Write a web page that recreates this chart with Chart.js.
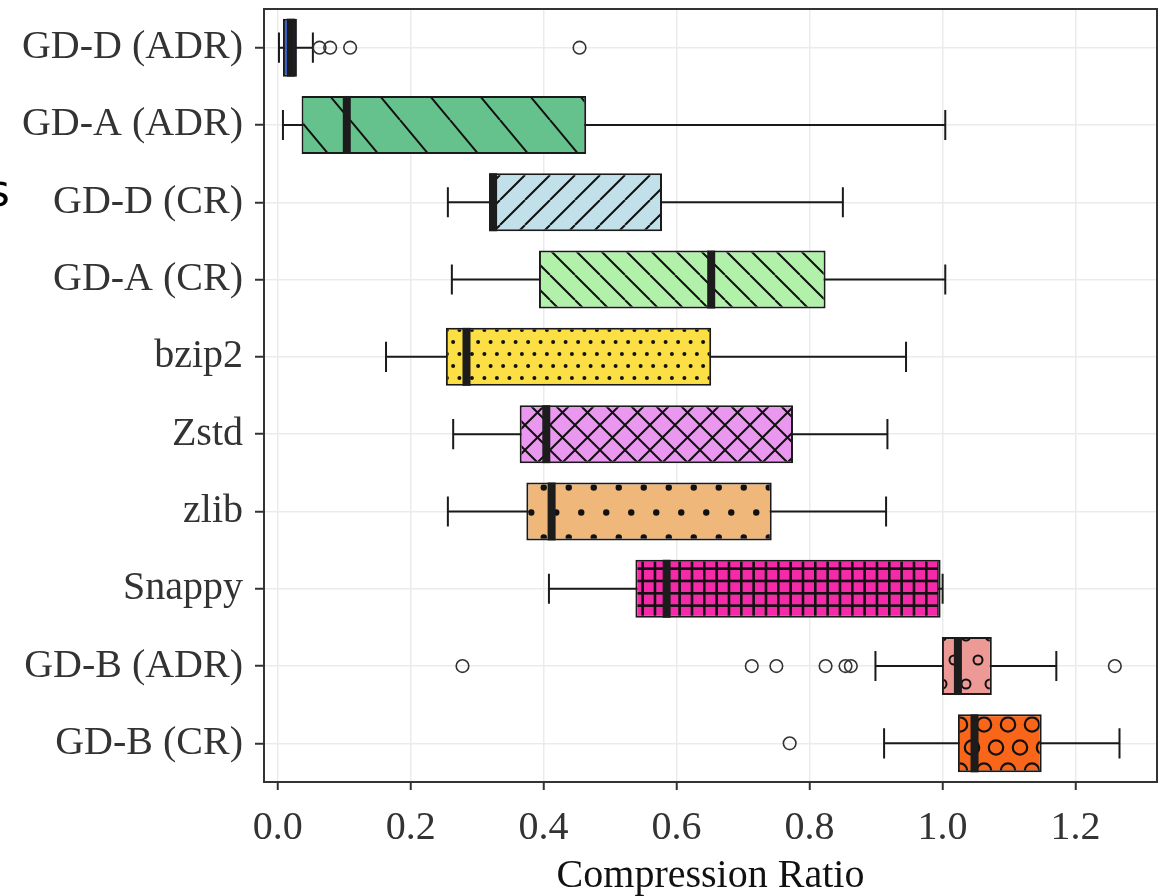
<!DOCTYPE html>
<html>
<head>
<meta charset="utf-8">
<script src="https://cdn.jsdelivr.net/npm/chart.js@4"></script>
<style>
  html, body { margin: 0; padding: 0; background: #fff; }
  #wrap { width: 1166px; height: 896px; }
</style>
</head>
<body>
<div id="wrap"><canvas id="chart"></canvas></div>
<script>
// box plot values
const categories = ['GD-D (ADR)', 'GD-A (ADR)', 'GD-D (CR)', 'GD-A (CR)', 'bzip2', 'Zstd', 'zlib', 'Snappy', 'GD-B (ADR)', 'GD-B (CR)'];
const whiskerLow  = [0.002, 0.008, 0.256, 0.262, 0.163, 0.264, 0.256, 0.408, 0.899, 0.912];
const q1          = [0.008, 0.036, 0.318, 0.393, 0.253, 0.364, 0.374, 0.538, 0.999, 1.023];
const median      = [0.020, 0.104, 0.324, 0.652, 0.284, 0.404, 0.412, 0.585, 1.023, 1.048];
const q3          = [0.029, 0.464, 0.578, 0.824, 0.652, 0.775, 0.743, 0.997, 1.074, 1.149];
const whiskerHigh = [0.053, 1.004, 0.850, 1.004, 0.945, 0.917, 0.915, 1.000, 1.171, 1.266];
const outlierGDD_ADR = [0.063, 0.079, 0.109, 0.454];
const outlierGDB_ADR = [0.278, 0.713, 0.750, 0.824, 0.854, 0.862, 1.259];
const outlierGDB_CR  = [0.770];
const fillColors = ['#3d62d0', '#66c28c', '#c1e0ea', '#b2f1aa', '#fbdf45', '#e997ef', '#f0b77b', '#f52aa8', '#ed9a97', '#fa6619'];
const xTicks = [0, 0.2, 0.4, 0.6, 0.8, 1.0, 1.2];

const canvas = document.getElementById('chart');
const mainCtx = canvas.getContext('2d');

function tile(w, h, bg, draw) {
  const c = document.createElement('canvas');
  c.width = w; c.height = h;
  const g = c.getContext('2d');
  g.fillStyle = bg;
  g.fillRect(0, 0, w, h);
  g.strokeStyle = '#111'; g.fillStyle = '#111';
  draw(g, w, h);
  return mainCtx.createPattern(c, 'repeat');
}
function back(g, w, h, lw) {   // "\" lines
  g.lineWidth = lw; g.beginPath();
  for (let k = -1; k <= 1; k++) { g.moveTo(k * w, 0); g.lineTo(k * w + w, h); }
  g.stroke();
}
function fwd(g, w, h, lw) {    // "/" lines
  g.lineWidth = lw; g.beginPath();
  for (let k = -1; k <= 1; k++) { g.moveTo(k * w, h); g.lineTo(k * w + w, 0); }
  g.stroke();
}
function dots(g, w, h, pts, r, open, lw) {
  pts.forEach(([px, py]) => {
    for (let a = -1; a <= 1; a++) for (let b = -1; b <= 1; b++) {
      g.beginPath(); g.arc(px + a * w, py + b * h, r, 0, Math.PI * 2);
      if (open) { g.lineWidth = lw; g.stroke(); } else g.fill();
    }
  });
}

const patterns = [
  fillColors[0],
  tile(50, 60, fillColors[1], (g, w, h) => back(g, w, h, 2)),
  tile(25, 25, fillColors[2], (g, w, h) => fwd(g, w, h, 2)),
  tile(25, 25, fillColors[3], (g, w, h) => back(g, w, h, 2)),
  tile(25, 24, fillColors[4], (g, w, h) => dots(g, w, h, [[3.1, 6], [15.6, 6], [9.4, 18], [21.9, 18]], 2, false)),
  tile(25, 25, fillColors[5], (g, w, h) => { back(g, w, h, 2); fwd(g, w, h, 2); }),
  tile(25, 50, fillColors[6], (g, w, h) => dots(g, w, h, [[6.25, 12.5], [18.75, 37.5]], 3.2, false)),
  tile(37, 37, fillColors[7], (g, w, h) => {
    for (let k = 0; k < 3; k++) {
      const p = k * w / 3;
      g.fillRect(p, 0, 2.6, h);
      g.fillRect(0, p, w, 2.6);
    }
  }),
  tile(24, 48, fillColors[8], (g, w, h) => dots(g, w, h, [[6, 12], [18, 36]], 4.5, true, 2)),
  tile(24, 46, fillColors[9], (g, w, h) => dots(g, w, h, [[12, 11.5], [0, 34.5]], 7.2, true, 2.2))
];

const boxParts = {
  id: 'boxParts',
  beforeDatasetsDraw(chart) {
    const { ctx, scales: { x, y } } = chart;
    const meta = chart.getDatasetMeta(0);
    ctx.save();
    ctx.strokeStyle = '#1a1a1a';
    ctx.lineWidth = 2;
    categories.forEach((c, i) => {
      const yc = y.getPixelForValue(i);
      const half = meta.data[i].height * 0.26;
      const x0 = x.getPixelForValue(whiskerLow[i]);
      const x1 = x.getPixelForValue(whiskerHigh[i]);
      ctx.beginPath();
      ctx.moveTo(x0, yc); ctx.lineTo(x1, yc);
      ctx.moveTo(x0, yc - half); ctx.lineTo(x0, yc + half);
      ctx.moveTo(x1, yc - half); ctx.lineTo(x1, yc + half);
      ctx.stroke();
    });
    ctx.restore();
  },
  afterDatasetDraw(chart, args) {
    if (args.index !== 0) return;
    const { ctx, scales: { x } } = chart;
    const meta = chart.getDatasetMeta(0);
    ctx.save();
    ctx.fillStyle = '#1c1c1c';
    categories.forEach((c, i) => {
      const bar = meta.data[i];
      const xm = x.getPixelForValue(median[i]);
      ctx.fillRect(xm - 4, bar.y - bar.height / 2, 8, bar.height);
    });
    ctx.restore();
  },
  afterDraw(chart) {
    const { ctx, chartArea: a } = chart;
    ctx.save();
    ctx.strokeStyle = '#333';
    ctx.lineWidth = 2;
    ctx.strokeRect(a.left, a.top, a.right - a.left, a.bottom - a.top);
    ctx.fillStyle = '#000';
    ctx.font = '44px "DejaVu Sans"';
    ctx.textAlign = 'right';
    ctx.fillText('s', 10, 206);
    ctx.restore();
  }
};

function outlierSet(vals, cat) {
  return {
    type: 'scatter',
    data: vals.map(v => ({ x: v, y: cat })),
    pointRadius: 6.3,
    pointHoverRadius: 6.3,
    borderWidth: 1.6,
    borderColor: '#333',
    backgroundColor: 'rgba(0,0,0,0)'
  };
}

new Chart(canvas, {
  type: 'bar',
  data: {
    labels: categories,
    datasets: [
      {
        data: categories.map((c, i) => [q1[i], q3[i]]),
        backgroundColor: patterns,
        borderColor: '#1a1a1a',
        borderWidth: 2,
        borderSkipped: false,
        barPercentage: 0.75,
        categoryPercentage: 1
      },
      outlierSet(outlierGDD_ADR, categories[0]),
      outlierSet(outlierGDB_ADR, categories[8]),
      outlierSet(outlierGDB_CR, categories[9])
    ]
  },
  options: {
    indexAxis: 'y',
    responsive: true,
    maintainAspectRatio: false,
    animation: false,
    layout: { padding: { top: 9, right: 9, left: 0, bottom: 0 } },
    plugins: { legend: { display: false }, tooltip: { enabled: false } },
    scales: {
      x: {
        type: 'linear',
        min: -0.0205,
        max: 1.3224,
        afterBuildTicks: s => { s.ticks = xTicks.map(v => ({ value: v })); },
        afterFit: s => { s.height = 114; s.paddingLeft = 0; s.paddingRight = 0; },
        border: { display: false },
        grid: { color: '#ebebeb', lineWidth: 1.5, tickColor: '#333', tickLength: 8, tickWidth: 2 },
        ticks: {
          callback: v => v.toFixed(1),
          color: '#333',
          padding: 14,
          maxRotation: 0,
          font: { family: '"Liberation Serif"', size: 40 }
        },
        title: {
          display: true,
          text: 'Compression Ratio',
          color: '#111',
          padding: { top: 0, bottom: 0 },
          font: { family: '"Liberation Serif"', size: 40, lineHeight: 1 }
        }
      },
      y: {
        type: 'category',
        afterFit: s => { s.width = 264; s.paddingTop = 0; s.paddingBottom = 0; },
        border: { display: false },
        grid: { offset: false, color: '#ebebeb', lineWidth: 1.5, tickColor: '#333', tickLength: 9, tickWidth: 2 },
        ticks: {
          color: '#333',
          padding: 12,
          autoSkip: false,
          font: { family: '"Liberation Serif"', size: 40 }
        }
      }
    }
  },
  plugins: [boxParts]
});
</script>
</body>
</html>
